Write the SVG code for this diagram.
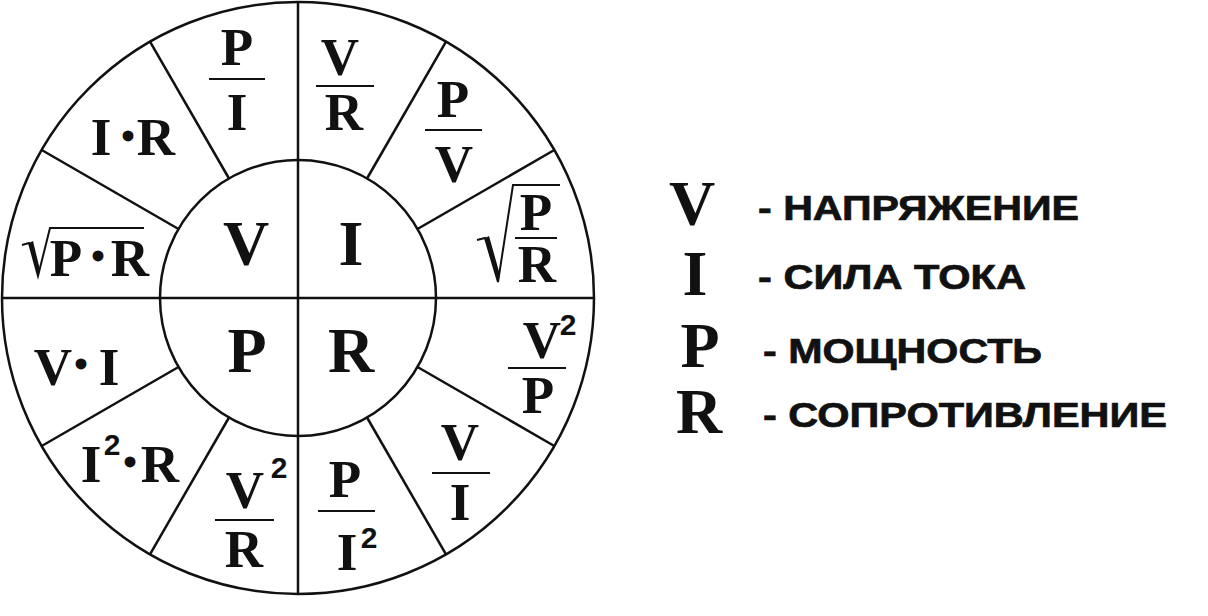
<svg xmlns="http://www.w3.org/2000/svg" width="1208" height="616" viewBox="0 0 1208 616">
<style>
.ln{stroke:#111;stroke-width:2.5;fill:none}
.bar{stroke:#111;stroke-width:2.2}
.rad{stroke:#111;stroke-width:2;fill:none;stroke-linejoin:miter}
.f{font-family:"Liberation Serif","Times New Roman",serif;font-weight:bold;fill:#111;text-anchor:middle}
.big{font-size:64px}
.mid{font-size:53px}
.sup{font-family:"Liberation Sans",Arial,sans-serif;font-size:30px}
.dot{font-size:40px}
.lg{font-family:"Liberation Sans",Arial,sans-serif;font-weight:bold;font-size:35px;fill:#111;stroke:#111;stroke-width:0.7}
</style>
<rect width="1208" height="616" fill="#fff"/>
<g id="connectors">
<circle class="ln" cx="298" cy="298" r="296"/>
<circle class="ln" cx="298" cy="298" r="138"/>
<line class="ln" x1="2" y1="298" x2="594" y2="298"/>
<line class="ln" x1="298" y1="2" x2="298" y2="594"/>
<line class="ln" x1="417.5" y1="229" x2="554.3" y2="150"/>
<line class="ln" x1="367" y1="178.5" x2="446" y2="41.7"/>
<line class="ln" x1="229" y1="178.5" x2="150" y2="41.7"/>
<line class="ln" x1="178.5" y1="229" x2="41.7" y2="150"/>
<line class="ln" x1="178.5" y1="367" x2="41.7" y2="446"/>
<line class="ln" x1="229" y1="417.5" x2="150" y2="554.3"/>
<line class="ln" x1="367" y1="417.5" x2="446" y2="554.3"/>
<line class="ln" x1="417.5" y1="367" x2="554.3" y2="446"/>
</g>
<g id="inner-V"><text class="f big" x="246" y="265">V</text></g>
<g id="inner-I"><text class="f big" x="351" y="265">I</text></g>
<g id="inner-P"><text class="f big" x="247" y="372">P</text></g>
<g id="inner-R"><text class="f big" x="351" y="372">R</text></g>
<g id="s-P-over-I">
<text class="f mid" x="237" y="65">P</text>
<line class="bar" x1="209" y1="79" x2="265" y2="79"/>
<text class="f mid" x="237" y="130">I</text>
</g>
<g id="s-V-over-R">
<text class="f mid" x="340" y="75">V</text>
<line class="bar" x1="316" y1="86" x2="374" y2="86"/>
<text class="f mid" x="344" y="130">R</text>
</g>
<g id="s-P-over-V">
<text class="f mid" x="453" y="117">P</text>
<line class="bar" x1="425" y1="130" x2="482" y2="130"/>
<text class="f mid" x="454" y="182">V</text>
</g>
<g id="s-sqrt-P-over-R">
<path class="rad" d="M477,240 L485,238 L498,282 L513,185 L560,185"/>
<path d="M485,238 L498,282 L500,275 L489,236 Z" fill="#111"/>
<text class="f mid" x="536" y="230">P</text>
<line class="bar" x1="515" y1="238" x2="557" y2="238"/>
<text class="f mid" x="537" y="282">R</text>
</g>
<g id="s-I-R">
<text class="f mid" x="101" y="155">I</text>
<text class="f dot" x="128" y="150">•</text>
<text class="f mid" x="156" y="155">R</text>
</g>
<g id="s-sqrt-P-R">
<path class="rad" d="M22,245 L29,243 L38,276 L50,228 L144,228"/>
<path d="M29,243 L38,276 L40,270 L33,241 Z" fill="#111"/>
<text class="f mid" x="66" y="276">P</text>
<text class="f dot" x="98" y="270">•</text>
<text class="f mid" x="130" y="276">R</text>
</g>
<g id="s-V-I">
<text class="f mid" x="53" y="385">V</text>
<text class="f dot" x="81" y="378">•</text>
<text class="f mid" x="109" y="385">I</text>
</g>
<g id="s-I2-R">
<text class="f mid" x="91" y="482">I</text>
<text class="f sup" x="112" y="455">2</text>
<text class="f dot" x="130" y="476">•</text>
<text class="f mid" x="160" y="482">R</text>
</g>
<g id="s-V2-over-R">
<text class="f mid" x="245" y="508">V</text>
<text class="f sup" x="279" y="478">2</text>
<line class="bar" x1="215" y1="520" x2="274" y2="520"/>
<text class="f mid" x="244" y="567">R</text>
</g>
<g id="s-P-over-I2">
<text class="f mid" x="345" y="497">P</text>
<line class="bar" x1="318" y1="511" x2="375" y2="511"/>
<text class="f mid" x="347" y="570">I</text>
<text class="f sup" x="369" y="548">2</text>
</g>
<g id="s-V-over-I">
<text class="f mid" x="460" y="460">V</text>
<line class="bar" x1="432" y1="473" x2="490" y2="473"/>
<text class="f mid" x="460" y="520">I</text>
</g>
<g id="s-V2-over-P">
<text class="f mid" x="542" y="358">V</text>
<text class="f sup" x="568" y="335">2</text>
<line class="bar" x1="508" y1="368" x2="566" y2="368"/>
<text class="f mid" x="538" y="413">P</text>
</g>
<g id="legend-V">
<text class="f big" x="692" y="225">V</text>
<text class="lg" x="758" y="220" textLength="321" lengthAdjust="spacingAndGlyphs">- НАПРЯЖЕНИЕ</text>
</g>
<g id="legend-I">
<text class="f big" x="695" y="295">I</text>
<text class="lg" x="758" y="289" textLength="268" lengthAdjust="spacingAndGlyphs">- СИЛА ТОКА</text>
</g>
<g id="legend-P">
<text class="f big" x="700" y="367">P</text>
<text class="lg" x="763" y="363" textLength="279" lengthAdjust="spacingAndGlyphs">- МОЩНОСТЬ</text>
</g>
<g id="legend-R">
<text class="f big" x="699" y="433">R</text>
<text class="lg" x="763" y="427" textLength="404" lengthAdjust="spacingAndGlyphs">- СОПРОТИВЛЕНИЕ</text>
</g>
</svg>
